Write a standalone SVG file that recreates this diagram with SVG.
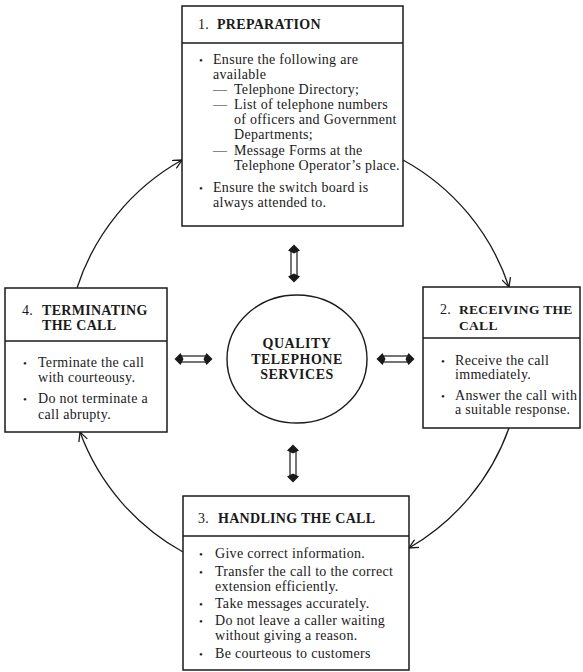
<svg xmlns="http://www.w3.org/2000/svg" width="583" height="672" viewBox="0 0 583 672">
<style>
.box{fill:#fff;stroke:#1a1a1a;stroke-width:1.5}
.div{stroke:#1a1a1a;stroke-width:1.4}
.t{font-family:"Liberation Serif","Times New Roman",serif;font-size:14px;fill:#1a1a1a;letter-spacing:0.3px}
.b{font-weight:bold;letter-spacing:0.3px}
.bul{font-family:"Liberation Serif",serif;font-size:11px;fill:#1a1a1a}
.arc{fill:none;stroke:#1a1a1a;stroke-width:1.3}
.c{font-family:"Liberation Serif","Times New Roman",serif;font-size:14px;font-weight:bold;fill:#1a1a1a;text-anchor:middle;letter-spacing:0.5px}
</style>
<defs>
<marker id="ah" viewBox="0 0 10 10" refX="10" refY="5" markerWidth="10" markerHeight="10" markerUnits="userSpaceOnUse" orient="auto">
<path d="M1,0.5 L10,5 L1,9.5" fill="none" stroke="#1a1a1a" stroke-width="1.3"/>
</marker>
<g id="dbl">
<rect x="-12" y="-3" width="24" height="6" fill="#fff" stroke="#1a1a1a" stroke-width="1.2"/>
<path d="M-19,0 L-13,-6 L-10,0 L-13,6 Z M19,0 L13,-6 L10,0 L13,6 Z" fill="#1a1a1a"/>
</g>
</defs>
<rect width="583" height="672" fill="#fff"/>

<g id="connectors">
<path class="arc" d="M403,160 A226,226 0 0 1 509,287" marker-end="url(#ah)"/>
<path class="arc" d="M509,428 A226,226 0 0 1 409,548" marker-end="url(#ah)"/>
<path class="arc" d="M183,552 A226,226 0 0 1 80,432" marker-end="url(#ah)"/>
<path class="arc" d="M77,288 A226,226 0 0 1 182,160" marker-end="url(#ah)"/>
<use href="#dbl" transform="translate(294,263.5) rotate(90)"/>
<use href="#dbl" transform="translate(293,463.5) rotate(90)"/>
<use href="#dbl" transform="translate(193.5,359)"/>
<use href="#dbl" transform="translate(395.5,359)"/>
</g>

<g id="center">
<ellipse cx="297" cy="359" rx="70" ry="64" fill="#fff" stroke="#1a1a1a" stroke-width="1.4"/>
<text class="c" x="297" y="348">QUALITY</text>
<text class="c" x="297" y="364">TELEPHONE</text>
<text class="c" x="297" y="379">SERVICES</text>
</g>

<g id="n1">
<rect class="box" x="182" y="6" width="221" height="220"/>
<line class="div" x1="182" y1="43" x2="403" y2="43"/>
<text class="t" x="198" y="29">1.</text>
<text class="t b" x="217" y="29">PREPARATION</text>
<text class="bul" x="199" y="64">•</text>
<text class="t" x="213" y="64">Ensure the following are</text>
<text class="t" x="213" y="79">available</text>
<text class="t" x="213" y="94">—</text>
<text class="t" x="234" y="94">Telephone Directory;</text>
<text class="t" x="213" y="109">—</text>
<text class="t" x="234" y="109">List of telephone numbers</text>
<text class="t" x="234" y="124">of officers and Government</text>
<text class="t" x="234" y="139">Departments;</text>
<text class="t" x="213" y="155">—</text>
<text class="t" x="234" y="155">Message Forms at the</text>
<text class="t" x="234" y="170">Telephone Operator’s place.</text>
<text class="bul" x="199" y="192">•</text>
<text class="t" x="213" y="192">Ensure the switch board is</text>
<text class="t" x="213" y="207">always attended to.</text>
</g>

<g id="n2">
<rect class="box" x="423" y="287" width="157" height="141"/>
<line class="div" x1="423" y1="338" x2="580" y2="338"/>
<text class="t" x="440" y="314">2.</text>
<text class="t b" x="459" y="314" style="font-size:13.5px">RECEIVING THE</text>
<text class="t b" x="459" y="330" style="font-size:13.5px">CALL</text>
<text class="bul" x="441" y="365">•</text>
<text class="t" x="455" y="365">Receive the call</text>
<text class="t" x="455" y="379">immediately.</text>
<text class="bul" x="441" y="400">•</text>
<text class="t" x="455" y="400">Answer the call with</text>
<text class="t" x="455" y="414">a suitable response.</text>
</g>

<g id="n3">
<rect class="box" x="183" y="496" width="226" height="174"/>
<line class="div" x1="183" y1="536" x2="409" y2="536"/>
<text class="t" x="198" y="523">3.</text>
<text class="t b" x="218" y="523">HANDLING THE CALL</text>
<text class="bul" x="199" y="558">•</text>
<text class="t" x="215" y="558">Give correct information.</text>
<text class="bul" x="199" y="576">•</text>
<text class="t" x="215" y="576">Transfer the call to the correct</text>
<text class="t" x="215" y="591">extension efficiently.</text>
<text class="bul" x="199" y="608">•</text>
<text class="t" x="215" y="608">Take messages accurately.</text>
<text class="bul" x="199" y="625">•</text>
<text class="t" x="215" y="625">Do not leave a caller waiting</text>
<text class="t" x="215" y="640">without giving a reason.</text>
<text class="bul" x="199" y="658">•</text>
<text class="t" x="215" y="658">Be courteous to customers</text>
</g>

<g id="n4">
<rect class="box" x="5" y="288" width="162" height="144"/>
<line class="div" x1="5" y1="341" x2="167" y2="341"/>
<text class="t" x="22" y="315">4.</text>
<text class="t b" x="42" y="315">TERMINATING</text>
<text class="t b" x="42" y="330">THE CALL</text>
<text class="bul" x="23" y="367">•</text>
<text class="t" x="38" y="367">Terminate the call</text>
<text class="t" x="38" y="382">with courteousy.</text>
<text class="bul" x="23" y="403">•</text>
<text class="t" x="38" y="403">Do not terminate a</text>
<text class="t" x="38" y="419">call abrupty.</text>
</g>
</svg>
